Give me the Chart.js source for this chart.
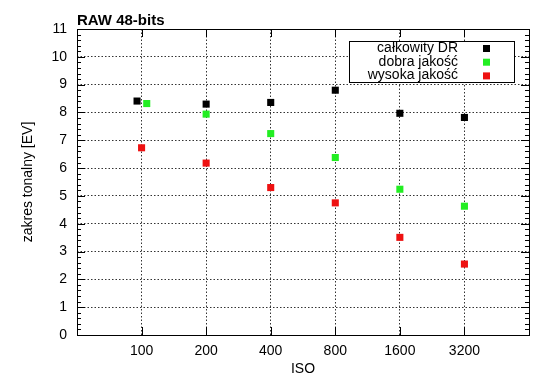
<!DOCTYPE html>
<html>
<head>
<meta charset="utf-8">
<script src="https://cdn.jsdelivr.net/npm/chart.js@4"></script>
<style>
  body { margin: 0; background: #fff; }
  #wrap { width: 550px; height: 389px; }
</style>
</head>
<body>
<div id="wrap"><canvas id="myChart" width="550" height="389"></canvas></div>
<script>
// ISO categories, placed on a log2 axis (100 -> 0, 200 -> 1, ...)
const isoLabels = ['100', '200', '400', '800', '1600', '3200'];
const isoPos = [0, 1, 2, 3, 4, 5];

// series values (x = position on the ISO axis)
const totalX = [-0.07, 1, 2, 3, 4, 5];
const totalDR = [8.41, 8.30, 8.36, 8.80, 7.97, 7.82];
const goodX = [0.08, 1, 2, 3, 4, 5];
const goodQ = [8.32, 7.94, 7.24, 6.38, 5.24, 4.63];
const highX = [0, 1, 2, 3, 4, 5];
const highQ = [6.73, 6.18, 5.30, 4.75, 3.51, 2.55];

const seriesNames = ['całkowity DR', 'dobra jakość', 'wysoka jakość'];
const seriesColors = ['#000000', '#22ee22', '#ee1111'];

const FONT = 'Liberation Sans, Arial, Helvetica, sans-serif';

function pts(xs, ys) {
    return xs.map(function(x, i) { return {x: x, y: ys[i]}; });
}

// gnuplot-like frame, inner ticks, title and key
const frame = {
    id: 'frame',
    afterDraw: function(chart) {
        const ctx = chart.ctx;
        const a = chart.chartArea;
        const xs = chart.scales.x, ys = chart.scales.y;
        ctx.save();
        ctx.strokeStyle = '#000';
        ctx.lineWidth = 1;
        ctx.beginPath();
        // minor y ticks every 0.2, major every 1
        for (let v = 0; v <= 11.001; v += 0.2) {
            const y = Math.round(ys.getPixelForValue(v)) + 0.5;
            const major = Math.abs(v - Math.round(v)) < 0.01;
            const len = major ? 8 : 4;
            ctx.moveTo(a.left, y); ctx.lineTo(a.left + len, y);
            ctx.moveTo(a.right, y); ctx.lineTo(a.right - len, y);
        }
        isoPos.forEach(function(p) {
            const x = Math.round(xs.getPixelForValue(p)) + 0.5;
            ctx.moveTo(x, a.bottom); ctx.lineTo(x, a.bottom - 8);
            ctx.moveTo(x, a.top); ctx.lineTo(x, a.top + 8);
        });
        ctx.stroke();
        ctx.strokeRect(Math.round(a.left) + 0.5, Math.round(a.top) + 0.5,
                       Math.round(a.right - a.left), Math.round(a.bottom - a.top));

        // title
        ctx.fillStyle = '#000';
        ctx.font = 'bold 15px ' + FONT;
        ctx.textAlign = 'left';
        ctx.textBaseline = 'alphabetic';
        ctx.fillText('RAW 48-bits', a.left, 25);

        // key box
        const kx = 349, ky = 41, kw = 165, kh = 41;
        ctx.fillStyle = '#fff';
        ctx.fillRect(kx, ky, kw, kh);
        ctx.strokeRect(kx + 0.5, ky + 0.5, kw, kh);
        ctx.font = '14px ' + FONT;
        ctx.textAlign = 'right';
        ctx.textBaseline = 'middle';
        chart.data.datasets.forEach(function(ds, i) {
            const y = 48 + i * 13.7;
            ctx.fillStyle = '#000';
            ctx.fillText(ds.label, 458, y);
            ctx.fillStyle = ds.backgroundColor;
            ctx.fillRect(483, y - 3, 7, 7);
        });
        ctx.restore();
    }
};

const ctx = document.getElementById('myChart').getContext('2d');
const myChart = new Chart(ctx, {
    type: 'scatter',
    data: {
        datasets: [{
            label: seriesNames[0],
            data: pts(totalX, totalDR),
            backgroundColor: seriesColors[0],
            borderColor: seriesColors[0]
        }, {
            label: seriesNames[1],
            data: pts(goodX, goodQ),
            backgroundColor: seriesColors[1],
            borderColor: seriesColors[1]
        }, {
            label: seriesNames[2],
            data: pts(highX, highQ),
            backgroundColor: seriesColors[2],
            borderColor: seriesColors[2]
        }]
    },
    options: {
        responsive: false,
        animation: false,
        layout: { padding: { left: 0, right: 21, top: 29, bottom: 0 } },
        elements: {
            point: { pointStyle: 'rect', radius: 5, borderWidth: 0, hoverRadius: 5 }
        },
        plugins: {
            legend: { display: false },
            title: { display: false },
            tooltip: { enabled: false }
        },
        scales: {
            x: {
                type: 'linear',
                min: -1,
                max: 6,
                afterBuildTicks: function(scale) {
                    scale.ticks = isoPos.map(function(p) { return {value: p}; });
                },
                afterFit: function(scale) { scale.height = 54; },
                ticks: {
                    color: '#000',
                    padding: 8,
                    font: { family: FONT, size: 14 },
                    callback: function(v) {
                        const i = isoPos.indexOf(v);
                        return i >= 0 ? isoLabels[i] : '';
                    }
                },
                grid: {
                    color: '#333',
                    lineWidth: 1,
                    drawTicks: false
                },
                border: { display: false, dash: [1.5, 2] },
                title: {
                    display: true,
                    text: 'ISO',
                    color: '#000',
                    font: { family: FONT, size: 14 },
                    padding: { top: 0, bottom: 11 }
                }
            },
            y: {
                min: 0,
                max: 11,
                afterFit: function(scale) { scale.width = 77; },
                ticks: {
                    stepSize: 1,
                    color: '#000',
                    padding: 10,
                    font: { family: FONT, size: 14 }
                },
                grid: {
                    color: '#333',
                    lineWidth: 1,
                    drawTicks: false
                },
                border: { display: false, dash: [1.5, 2] },
                title: {
                    display: true,
                    text: 'zakres tonalny [EV]',
                    color: '#000',
                    font: { family: FONT, size: 14 },
                    padding: { top: 20, bottom: 0 }
                }
            }
        }
    },
    plugins: [frame]
});
</script>
</body>
</html>
